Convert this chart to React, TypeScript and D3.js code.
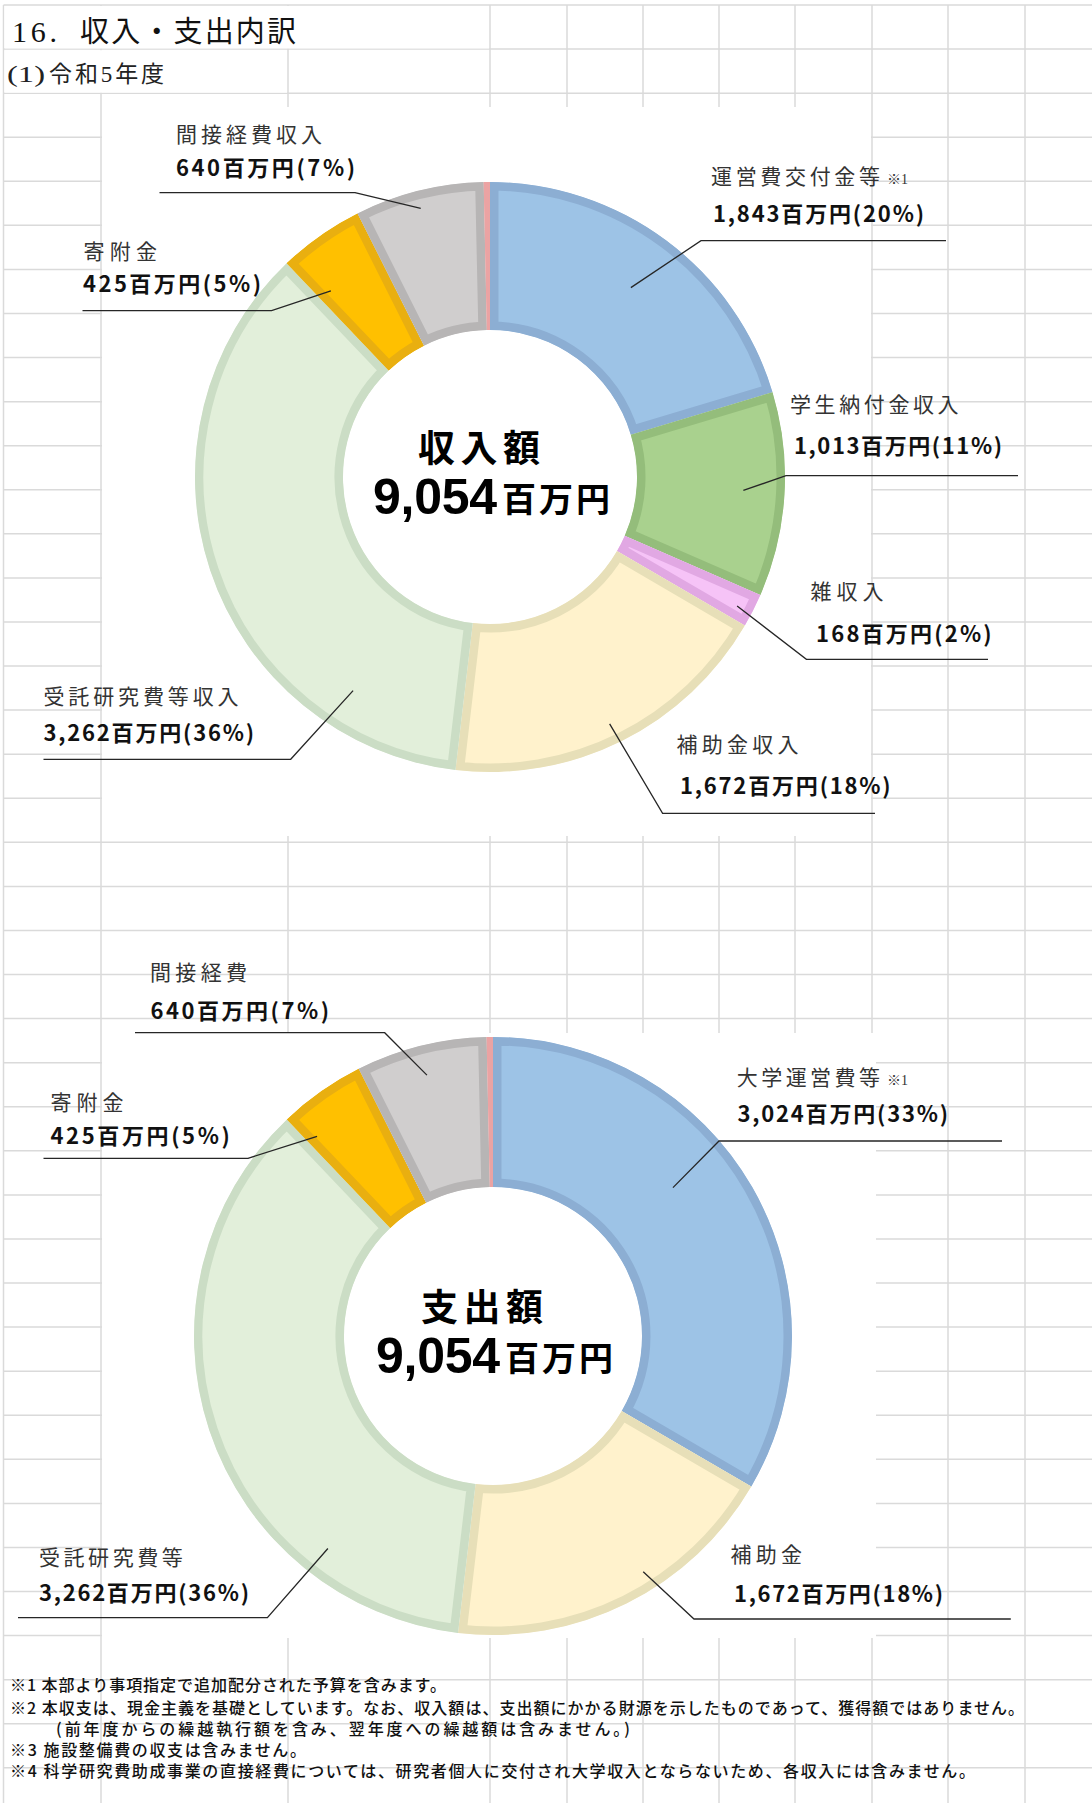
import React from 'react';
import * as d3 from 'd3';

// ---------------- data ----------------
const pageTitleNumber = '16.';
const pageTitleText = '収入・支出内訳';
const subTitleNumber = '(1)';
const subTitleText = '令和5年度';

const incomeCategories = ['運営費交付金等', '学生納付金収入', '雑収入', '補助金収入', '受託研究費等収入', '寄附金', '間接経費収入', 'その他'];
const incomeValues = [1843, 1013, 168, 1672, 3262, 425, 640, 31];

const expenseCategories = ['大学運営費等', '補助金', '受託研究費等', '寄附金', '間接経費', 'その他'];
const expenseValues = [3024, 1672, 3262, 425, 640, 31];

const centerTitles = ['収入額', '支出額'];
const unitText = '百万円';
const noteMark = '※1';
const notedCategories = ['運営費交付金等', '大学運営費等'];

const footnoteLines = [
  '※1 本部より事項指定で追加配分された予算を含みます。',
  '※2 本収支は、現金主義を基礎としています。なお、収入額は、支出額にかかる財源を示したものであって、獲得額ではありません。',
  '(前年度からの繰越執行額を含み、翌年度への繰越額は含みません。)',
  '※3 施設整備費の収支は含みません。',
  '※4 科学研究費助成事業の直接経費については、研究者個人に交付され大学収入とならないため、各収入には含みません。',
];

// ---------------- styles ----------------
const sliceStyle: Record<string, [string, string]> = {
  '運営費交付金等': ['#9DC3E6', '#8CAED3'],
  '大学運営費等': ['#9DC3E6', '#8CAED3'],
  '学生納付金収入': ['#A9D18E', '#94BD7B'],
  '雑収入': ['#F6C3F7', '#E1A8E3'],
  '補助金収入': ['#FFF2CC', '#E7DFB8'],
  '補助金': ['#FFF2CC', '#E7DFB8'],
  '受託研究費等収入': ['#E2EFDA', '#CBDDC5'],
  '受託研究費等': ['#E2EFDA', '#CBDDC5'],
  '寄附金': ['#FFC000', '#E9AF10'],
  '間接経費収入': ['#D0CECE', '#B7B5B5'],
  '間接経費': ['#D0CECE', '#B7B5B5'],
  'その他': ['#F3B2B2', '#EBA3A3'],
};

const JP = "'Noto Sans CJK JP', 'Noto Sans CJK SC', sans-serif";
const SERIF_JP = "'Liberation Serif', 'DejaVu Serif', 'Noto Sans CJK JP', serif";
const ARIAL = "'Liberation Sans', Arial, sans-serif";

type LabelLayout = {
  i: number; nx: number; ny: number; nw: number;
  vx: number; vy: number; vw: number;
  ly: number; lx1: number; lx2: number; t: number; rf: number;
};

type Geom = { id: string; cx: number; cy: number; R: number; r: number };

const incomeGeom: Geom = { id: 'inc', cx: 490, cy: 477, R: 295, r: 147 };
const expenseGeom: Geom = { id: 'exp', cx: 493, cy: 1336, R: 299, r: 149 };

const incomeLayout: LabelLayout[] = [
  { i: 0, nx: 711, ny: 183.5, nw: 169, vx: 713, vy: 222, vw: 211, ly: 240.7, lx1: 701, lx2: 946, t: 0.5, rf: 0.8 },
  { i: 1, nx: 790, ny: 412, nw: 168.6, vx: 794, vy: 453.5, vw: 208, ly: 475.7, lx1: 786, lx2: 1018, t: 0.49, rf: 0.86 },
  { i: 2, nx: 810.6, ny: 598.5, nw: 73, vx: 816, vy: 642, vw: 175.7, ly: 659.3, lx1: 806.4, lx2: 988, t: 0.6, rf: 0.945 },
  { i: 3, nx: 676.6, ny: 752, nw: 121.8, vx: 680, vy: 793.5, vw: 210.7, ly: 813.3, lx1: 662.6, lx2: 875, t: 0.51, rf: 0.93 },
  { i: 4, nx: 43.5, ny: 703.5, nw: 195, vx: 43.5, vy: 740.5, vw: 210.5, ly: 759.3, lx1: 43.5, lx2: 290.7, t: 0.2, rf: 0.86 },
  { i: 5, nx: 83.5, ny: 258.5, nw: 73.5, vx: 83, vy: 292, vw: 178, ly: 310.7, lx1: 82.5, lx2: 271.6, t: 0.18, rf: 0.83 },
  { i: 6, nx: 176, ny: 142, nw: 146, vx: 176, vy: 176, vw: 179, ly: 192.7, lx1: 159.5, lx2: 355, t: 0.48, rf: 0.94 },
];

const expenseLayout: LabelLayout[] = [
  { i: 0, nx: 736.8, ny: 1085.3, nw: 143.2, vx: 737.5, vy: 1122, vw: 210.5, ly: 1141, lx1: 719, lx2: 1002, t: 0.42, rf: 0.78 },
  { i: 1, nx: 730.5, ny: 1561.5, nw: 71.5, vx: 734, vy: 1601.5, vw: 209, ly: 1619, lx1: 694, lx2: 1010.8, t: 0.41, rf: 0.935 },
  { i: 2, nx: 39, ny: 1565.3, nw: 143.8, vx: 39, vy: 1600.5, vw: 210, ly: 1617.7, lx1: 18, lx2: 267.4, t: 0.24, rf: 0.9 },
  { i: 3, nx: 50.5, ny: 1110.3, nw: 73, vx: 50.5, vy: 1144, vw: 179.3, ly: 1158.3, lx1: 43.5, lx2: 248, t: 0.13, rf: 0.89 },
  { i: 4, nx: 150, ny: 980.3, nw: 97, vx: 150.4, vy: 1018.5, vw: 178.6, ly: 1032.7, lx1: 135, lx2: 384.7, t: 0.49, rf: 0.9 },
];

const footLayout = [
  { x: 10, y: 1691, w: 436 },
  { x: 10, y: 1714, w: 1014 },
  { x: 56, y: 1735, w: 574 },
  { x: 10, y: 1756, w: 296 },
  { x: 10, y: 1777, w: 965 },
];

const gridXs = [3.5, 101, 288, 490, 567, 643, 719, 795, 872, 948, 1025];
const gridY0 = 5;
const gridStep = 44.07;
const W = 1092;
const H = 1803;

function Donut({ cats, vals, geom, layout, title }: { cats: string[]; vals: number[]; geom: Geom; layout: LabelLayout[]; title: string }) {
  const total = d3.sum(vals);
  const pie = d3.pie<number>().sort(null).value((d) => d)(vals);
  const arc = d3.arc<d3.PieArcDatum<number>>().innerRadius(geom.r).outerRadius(geom.R);
  const fmt = d3.format(',');
  const { cx, cy, R } = geom;
  return (
    <g>
      <g transform={`translate(${cx},${cy})`}>
        {pie.map((p, i) => {
          const d = arc(p) || '';
          const [fill, border] = sliceStyle[cats[i]];
          const id = `${geom.id}-clip-${i}`;
          return (
            <g key={i}>
              <clipPath id={id}>
                <path d={d} />
              </clipPath>
              <path d={d} fill={fill} stroke={border} strokeWidth={17} clipPath={`url(#${id})`} />
            </g>
          );
        })}
      </g>
      {layout.map((L) => {
        const p = pie[L.i];
        const a = p.startAngle + L.t * (p.endAngle - p.startAngle);
        const ax = cx + L.rf * R * Math.sin(a);
        const ay = cy - L.rf * R * Math.cos(a);
        const rightSide = L.lx1 > cx;
        const path = rightSide
          ? `M${L.lx2},${L.ly}L${L.lx1},${L.ly}L${ax},${ay}`
          : `M${L.lx1},${L.ly}L${L.lx2},${L.ly}L${ax},${ay}`;
        const pct = Math.round((vals[L.i] / total) * 100);
        const name = cats[L.i];
        const hasNote = notedCategories.includes(name);
        return (
          <g key={L.i}>
            <path d={path} fill="none" stroke="#262626" strokeWidth={1.3} />
            <text x={L.nx} y={L.ny} fontFamily={JP} fontSize={21} fill="#333" textLength={L.nw} lengthAdjust="spacing">
              {name}
            </text>
            {hasNote && (
              <text x={L.nx + L.nw + 7} y={L.ny} fontFamily={SERIF_JP} fontSize={14} fill="#333">
                {noteMark}
              </text>
            )}
            <text x={L.vx} y={L.vy} fontFamily={JP} fontSize={22} fontWeight={700} fill="#111" textLength={L.vw} lengthAdjust="spacing">
              {`${fmt(vals[L.i])}${unitText}(${pct}%)`}
            </text>
          </g>
        );
      })}
      <text x={cx - 72} y={cy - 15} fontFamily={JP} fontWeight={700} fill="#000" fontSize={37} letterSpacing={5.5}>
        {title}
      </text>
      <text x={cx - 117} y={cy + 36.5} fontFamily={ARIAL} fontWeight={700} fill="#000" fontSize={50} textLength={124} lengthAdjust="spacing">
        {fmt(total)}
      </text>
      <text x={cx + 12} y={cy + 35} fontFamily={JP} fontWeight={700} fill="#000" fontSize={34} letterSpacing={3}>
        {unitText}
      </text>
    </g>
  );
}

export default function App() {
  const rows: number[] = [];
  for (let y = gridY0; y <= H; y += gridStep) rows.push(y);
  return (
    <svg width={W} height={H} viewBox={`0 0 ${W} ${H}`} style={{ position: 'absolute', left: 0, top: 0, background: '#fff' }}>
      <rect x={0} y={0} width={W} height={H} fill="#fff" />
      {/* spreadsheet grid */}
      <g stroke="#DADADA" strokeWidth={1.5}>
        {gridXs.map((x) => (
          <line key={'v' + x} x1={x} x2={x} y1={gridY0} y2={H} />
        ))}
        {rows.map((y) => (
          <line key={'h' + y} x1={gridXs[0]} x2={W} y1={y} y2={y} />
        ))}
      </g>
      {/* cells covered by overflowing text / chart areas */}
      <rect x={4.5} y={6} width={484.5} height={42.5} fill="#fff" />
      <rect x={4.5} y={50.2} width={282.5} height={42.5} fill="#fff" />
      <rect x={102} y={107} width={769} height={729} fill="#fff" />
      <rect x={102} y={1033} width={774} height={605} fill="#fff" />

      <text x={12} y={41.5} fontFamily={SERIF_JP} fontSize={30} fill="#111" textLength={45} lengthAdjust="spacing">
        {pageTitleNumber}
      </text>
      <text x={80} y={41.5} fontFamily={SERIF_JP} fontSize={29} fill="#111" textLength={216} lengthAdjust="spacing">
        {pageTitleText}
      </text>
      <text x={7} y={82} fontFamily={SERIF_JP} fontSize={23} fill="#222" textLength={38} lengthAdjust="spacingAndGlyphs">
        {subTitleNumber}
      </text>
      <text x={49} y={82} fontFamily={SERIF_JP} fontSize={23} fill="#222" textLength={115} lengthAdjust="spacing">
        {subTitleText}
      </text>

      <Donut cats={incomeCategories} vals={incomeValues} geom={incomeGeom} layout={incomeLayout} title={centerTitles[0]} />
      <Donut cats={expenseCategories} vals={expenseValues} geom={expenseGeom} layout={expenseLayout} title={centerTitles[1]} />

      {footnoteLines.map((line, i) => (
        <text key={i} x={footLayout[i].x} y={footLayout[i].y} fontFamily={JP} fontSize={16} fontWeight={500} fill="#111" textLength={footLayout[i].w} lengthAdjust="spacing">
          {line}
        </text>
      ))}
    </svg>
  );
}
